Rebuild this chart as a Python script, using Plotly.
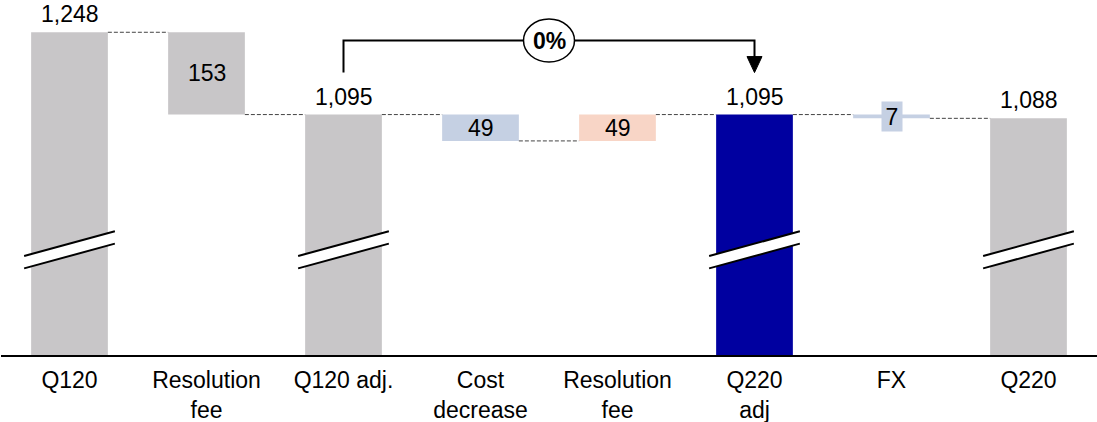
import plotly.graph_objects as go

# Waterfall: quarter totals and the movements between them
categories = ["Q120", "Resolution<br>fee", "Q120 adj.", "Cost<br>decrease",
              "Resolution<br>fee", "Q220<br>adj", "FX", "Q220"]
totals = [1248, None, 1095, None, None, 1095, None, 1088]
deltas = [None, -153, None, -49, 49, None, -7, None]
bar_colors = ["#C8C6C8", "#C8C6C8", "#C8C6C8", "#C5D0E3",
              "#F8D5C6", "#0000A0", "#C5D0E3", "#C8C6C8"]
bridge_from, bridge_to, bridge_label = 2, 5, "0%"

# layout constants
W, H = 1097, 422
M_L, M_R, M_T, M_B = 1, 0, 0, 67
PLOT_H = H - M_T - M_B
PLOT_W = W - M_L - M_R
Y_MIN, Y_MAX = 648, 1308
BAR_W = 0.56
FONT = "Liberation Sans, Arial, sans-serif"
FS = 23

def u(px):
    """pixels -> y data units"""
    return px * (Y_MAX - Y_MIN) / PLOT_H

def cx(px):
    """pixels -> x category units"""
    return px * 8.0 / PLOT_W

# running totals -> bar bases/heights
bases, heights, levels = [], [], []
level = 0
for t, d in zip(totals, deltas):
    if t is not None:
        bases.append(0)
        heights.append(t)
        level = t
    else:
        new = level + d
        bases.append(min(level, new))
        heights.append(abs(d))
        level = new
    levels.append(level)

xs = list(range(len(categories)))

fig = go.Figure(go.Bar(
    x=xs, y=heights, base=bases, width=BAR_W,
    marker=dict(color=bar_colors, line=dict(width=0)),
    hoverinfo="skip",
))

shapes = []
annotations = []

# dashed connectors between neighbouring bars
for i in range(len(xs) - 1):
    shapes.append(dict(
        type="line", xref="x", yref="y",
        x0=xs[i] + BAR_W / 2, x1=xs[i + 1] - BAR_W / 2,
        y0=levels[i], y1=levels[i],
        line=dict(color="#444444", width=1, dash="4px,2px"),
    ))

# value labels
for i, (t, d) in enumerate(zip(totals, deltas)):
    if t is not None:
        annotations.append(dict(
            x=xs[i], y=t, xref="x", yref="y", text=f"{t:,}",
            showarrow=False, yanchor="bottom", yshift=3,
            font=dict(family=FONT, size=FS, color="#000000"),
        ))
    else:
        mid = bases[i] + heights[i] / 2
        a = dict(x=xs[i], y=mid, xref="x", yref="y", text=f"{abs(d):,}",
                 showarrow=False, yanchor="middle",
                 font=dict(family=FONT, size=FS, color="#000000"))
        if heights[i] < 20:
            a.update(bgcolor=bar_colors[i], width=20, height=29, borderpad=0)
        annotations.append(a)

# axis-break marks on the total bars
half = BAR_W / 2 + cx(7)
for i, t in enumerate(totals):
    if t is None:
        continue
    xl, xr = xs[i] - half, xs[i] + half
    lo_l, lo_r, hi_l, hi_r = 809, 855, 832, 878
    shapes.append(dict(
        type="path", xref="x", yref="y",
        path=f"M{xl},{lo_l} L{xr},{lo_r} L{xr},{hi_r} L{xl},{hi_l} Z",
        fillcolor="#FFFFFF", line=dict(width=0),
    ))
    for yl, yr in ((lo_l, lo_r), (hi_l, hi_r)):
        shapes.append(dict(type="line", xref="x", yref="y",
                           x0=xl, x1=xr, y0=yl, y1=yr,
                           line=dict(color="#000000", width=2)))

# bridge bracket with arrow and percentage bubble
top_lvl = max(levels[bridge_from], levels[bridge_to])
y_start = top_lvl + u(42)
y_bar = top_lvl + u(74)
y_head = top_lvl + u(57)
shapes.append(dict(
    type="path", xref="x", yref="y",
    path=(f"M{xs[bridge_from]},{y_start} L{xs[bridge_from]},{y_bar} "
          f"L{xs[bridge_to]},{y_bar} L{xs[bridge_to]},{y_head}"),
    line=dict(color="#000000", width=2),
))
hw = cx(7.5)
shapes.append(dict(
    type="path", xref="x", yref="y",
    path=(f"M{xs[bridge_to] - hw},{y_head + u(1)} L{xs[bridge_to] + hw},{y_head + u(1)} "
          f"L{xs[bridge_to]},{y_start} Z"),
    fillcolor="#000000", line=dict(color="#000000", width=1),
))
mid_x = (xs[bridge_from] + xs[bridge_to]) / 2
shapes.append(dict(
    type="circle", xref="x", yref="y",
    x0=mid_x - cx(25.5), x1=mid_x + cx(25.5),
    y0=y_bar - u(21.5), y1=y_bar + u(21.5),
    fillcolor="#FFFFFF", line=dict(color="#000000", width=1.5),
))
annotations.append(dict(
    x=mid_x, y=y_bar, xref="x", yref="y", text=f"<b>{bridge_label}</b>",
    showarrow=False, yanchor="middle",
    font=dict(family=FONT, size=FS, color="#000000"),
))

fig.update_layout(
    width=W, height=H,
    margin=dict(l=M_L, r=M_R, t=M_T, b=M_B, pad=0),
    paper_bgcolor="#FFFFFF", plot_bgcolor="#FFFFFF",
    showlegend=False,
    shapes=shapes, annotations=annotations,
    xaxis=dict(
        range=[-0.5, 7.5], tickmode="array", tickvals=xs, ticktext=categories,
        showline=True, linecolor="#000000", linewidth=2,
        showgrid=False, zeroline=False, ticks="", ticklabelstandoff=3,
        tickfont=dict(family=FONT, size=FS, color="#000000"),
        fixedrange=True,
    ),
    yaxis=dict(range=[Y_MIN, Y_MAX], visible=False, fixedrange=True),
)

fig.write_html("out.html")
